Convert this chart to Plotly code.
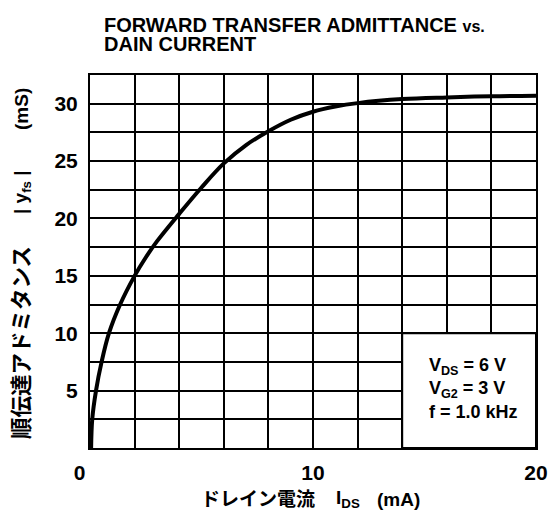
import plotly.graph_objects as go

# Curve data (Ids in mA, |yfs| in mS)
ids_ma = [0.05, 0.1, 0.27, 0.52, 0.85, 1.35, 2.0, 2.5, 3.0, 4.0, 5.0, 6.0, 7.0, 8.0, 9.0, 10.0, 11.0, 12.0, 14.0, 16.0, 18.0, 20.0]
yfs_ms = [0.0, 2.5, 5.0, 7.5, 10.0, 12.5, 15.0, 16.6, 18.0, 20.4, 22.7, 24.8, 26.4, 27.6, 28.6, 29.3, 29.75, 30.05, 30.4, 30.55, 30.65, 30.7]

x_tickvals = [0, 2, 4, 6, 8, 10, 12, 14, 16, 18, 20]
x_ticktext = ["0\u2002\u2002", "", "", "", "", "10", "", "", "", "", "20"]
y_tickvals = [0, 2.5, 5, 7.5, 10, 12.5, 15, 17.5, 20, 22.5, 25, 27.5, 30, 32.5]
y_ticktext = ["", "", "5", "", "10", "", "15", "", "20", "", "25", "", "30", ""]

FONT = "Liberation Sans, Arial, Noto Sans CJK JP"

fig = go.Figure()
fig.add_trace(go.Scatter(x=ids_ma, y=yfs_ms, mode="lines",
                         line=dict(color="black", width=4, shape="spline", smoothing=1.0),
                         showlegend=False, hoverinfo="skip"))

axis_common = dict(showgrid=True, gridcolor="black", gridwidth=1.5,
                   showline=True, linecolor="black", linewidth=2, mirror=True,
                   zeroline=False, ticks="", tickmode="array", automargin=False,
                   tickfont=dict(family=FONT, size=21, color="black", weight="bold"))

fig.update_xaxes(range=[0, 20], tickvals=x_tickvals, ticktext=x_ticktext, ticklabelstandoff=5, **axis_common)
fig.update_yaxes(range=[0, 32.5], tickvals=y_tickvals, ticktext=y_ticktext, ticklabelstandoff=6, **axis_common)

# Condition box
fig.add_shape(type="rect", x0=14, x1=20, y0=0, y1=10, xref="x", yref="y",
              fillcolor="white", line=dict(color="black", width=2), layer="above")

annots = []
annots.append(dict(text="<b>V<sub>DS</sub> = 6 V<br>V<sub>G2</sub> = 3 V<br>f = 1.0 kHz</b>",
                   x=17.2, y=5.2, xref="x", yref="y", showarrow=False, align="left",
                   xanchor="center", yanchor="middle",
                   font=dict(family=FONT, size=18, color="black")))
# Title
annots.append(dict(text="<b>FORWARD TRANSFER ADMITTANCE <span style='font-size:16px'>vs.</span></b>",
                   x=(102 - 90) / 446, y=(448 - 25) / 373, xref="paper", yref="paper",
                   showarrow=False, xanchor="left", yanchor="middle",
                   font=dict(family=FONT, size=20, color="black")))
annots.append(dict(text="<b>DAIN CURRENT</b>",
                   x=(102 - 90) / 446, y=(448 - 44) / 373, xref="paper", yref="paper",
                   showarrow=False, xanchor="left", yanchor="middle",
                   font=dict(family=FONT, size=20, color="black")))
# Y axis title pieces
for txt, py, sz in [("<b>順伝達アドミタンス</b>", 343, 21.5), ("<b>| y<sub>fs</sub> |</b>", 192, 19), ("<b>(mS)</b>", 109, 19)]:
    annots.append(dict(text=txt, x=(22 - 90) / 446, y=(448 - py) / 373, xref="paper", yref="paper",
                       showarrow=False, textangle=-90, xanchor="center", yanchor="middle",
                       font=dict(family=FONT, size=sz, color="black")))
# X axis title pieces
for txt, px in [("<b>ドレイン電流</b>", 258), ("<b>I<sub>DS</sub></b>", 348), ("<b>(mA)</b>", 398)]:
    annots.append(dict(text=txt, x=(px - 90) / 446, y=(448 - 499) / 373, xref="paper", yref="paper",
                       showarrow=False, xanchor="center", yanchor="middle",
                       font=dict(family=FONT, size=19, color="black")))

fig.update_layout(width=552, height=515, margin=dict(l=90, r=16, t=75, b=67),
                  paper_bgcolor="white", plot_bgcolor="white", annotations=annots)

fig.write_html("out.html", config={"displayModeBar": False},
               post_script="document.body.style.margin='0';")
